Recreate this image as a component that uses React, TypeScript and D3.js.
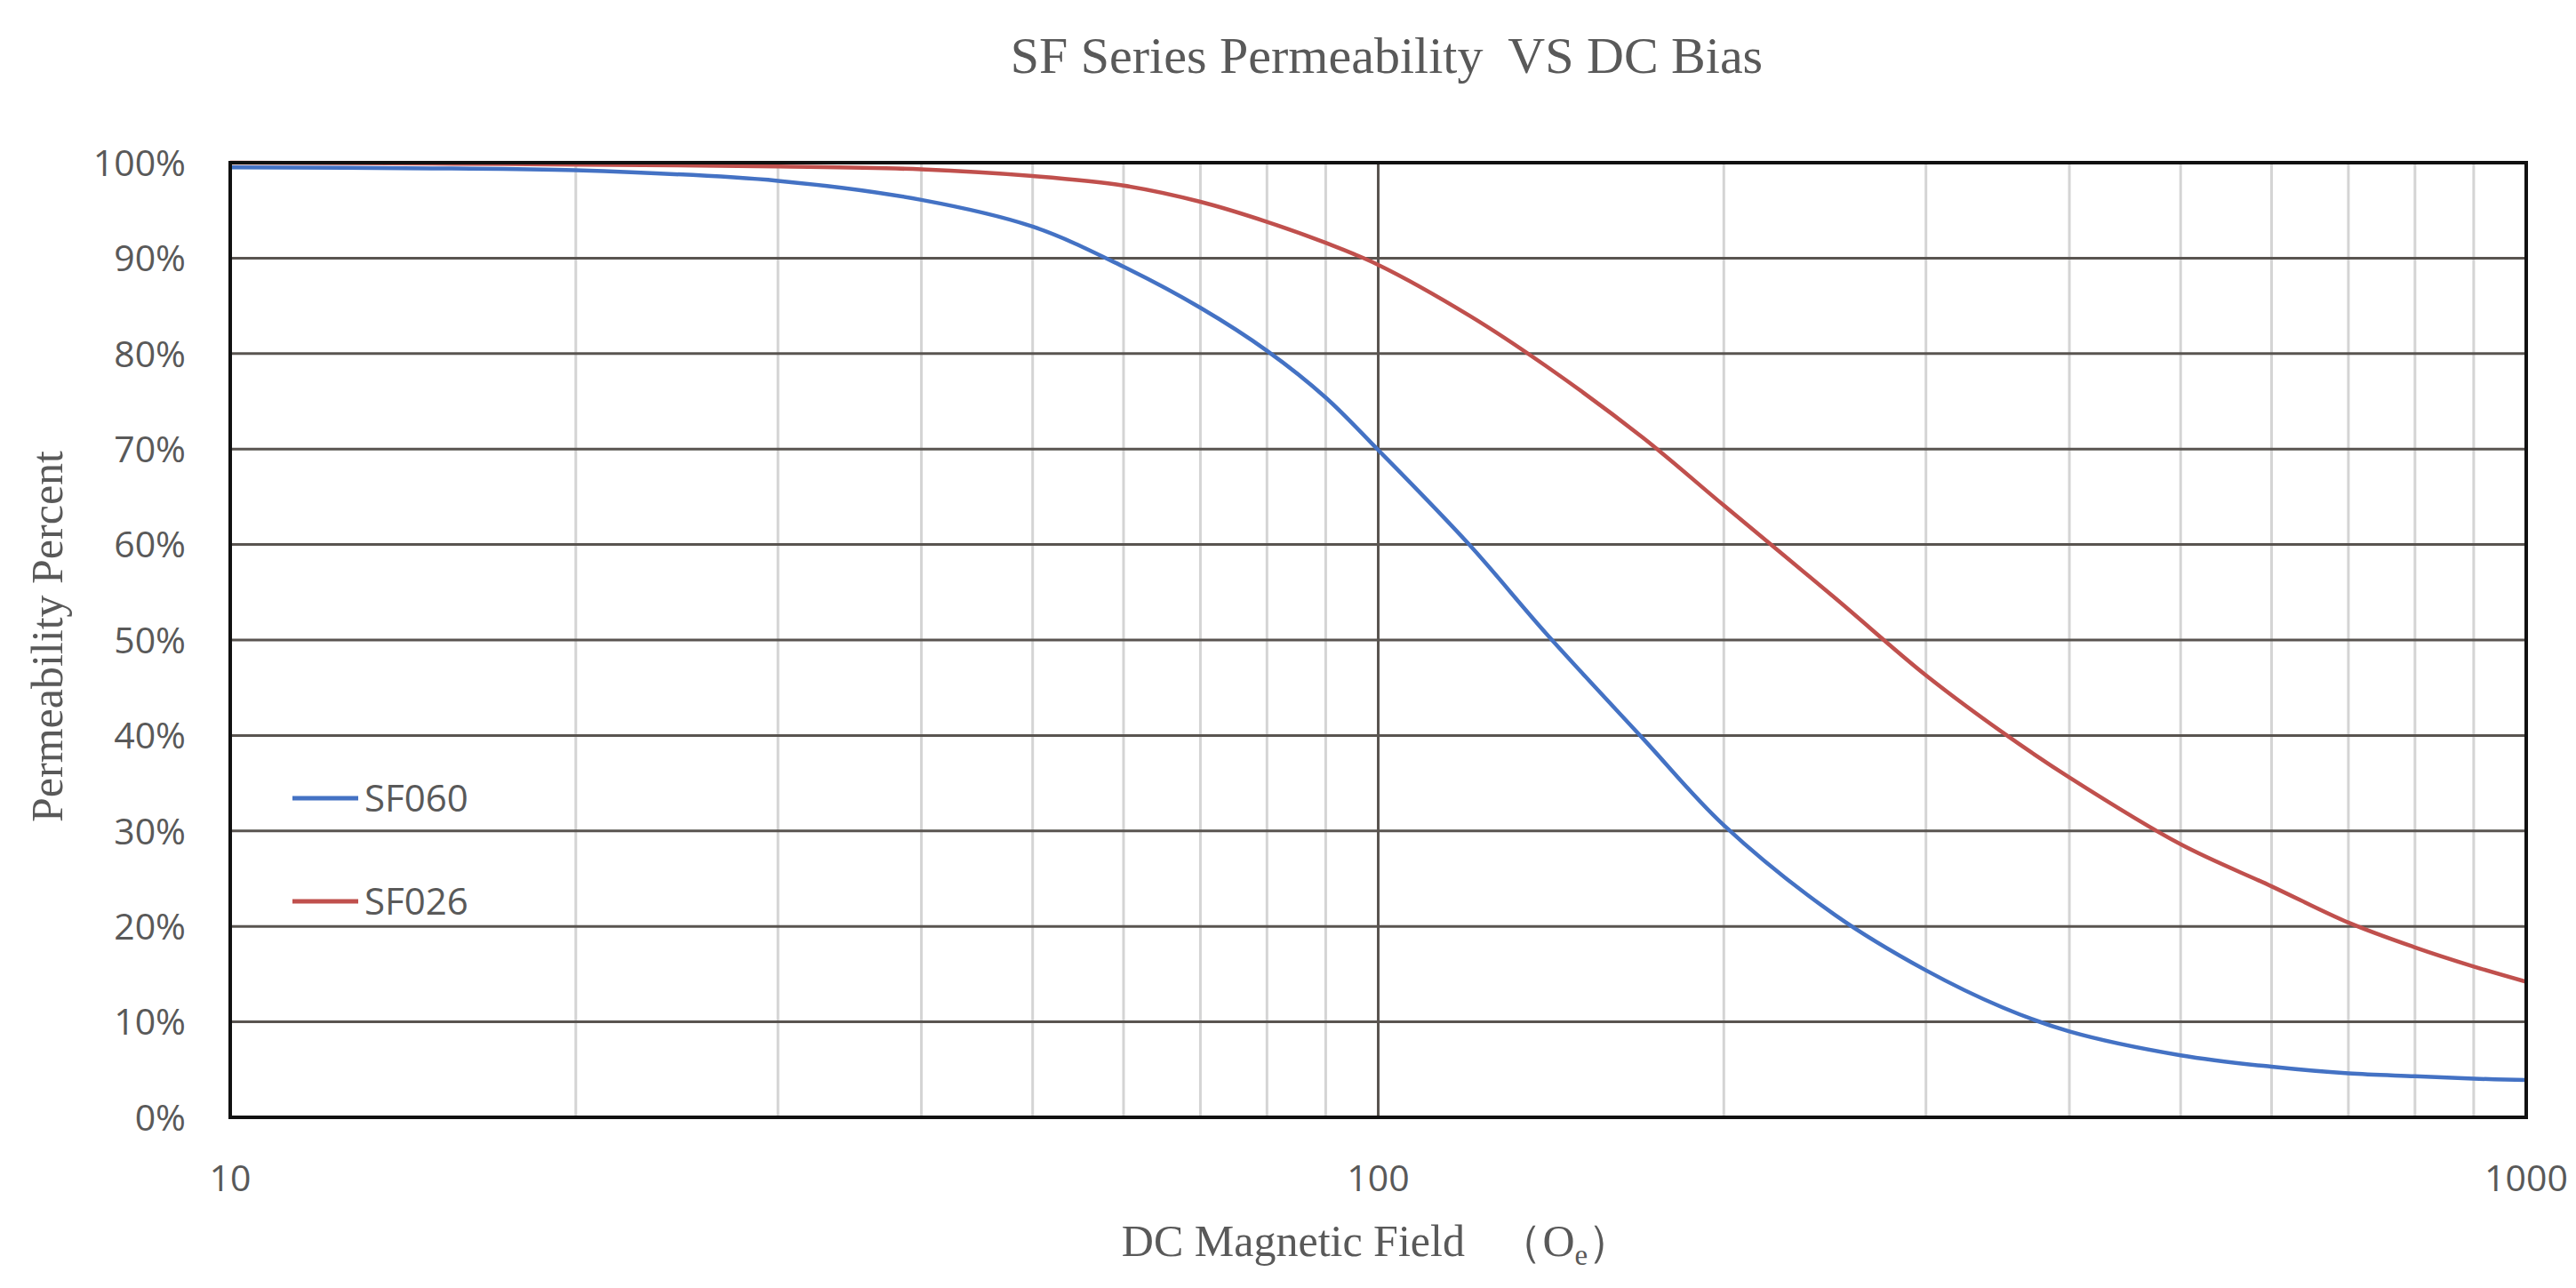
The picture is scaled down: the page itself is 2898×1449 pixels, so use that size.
import React from "react";
import * as d3 from "d3";

const fieldOe = [10, 15, 20, 30, 40, 50, 60, 70, 80, 90, 100, 120, 140, 170, 200, 250, 300, 350, 400, 500, 600, 700, 800, 900, 1000];
const sf060 = [99.5, 99.4, 99.2, 98.1, 96.1, 93.3, 89.1, 84.8, 80.3, 75.4, 69.9, 60.0, 50.7, 39.7, 30.6, 21.2, 15.4, 11.5, 9.0, 6.5, 5.3, 4.6, 4.3, 4.05, 3.9];
const sf026 = [100, 99.9, 99.8, 99.6, 99.3, 98.6, 97.6, 95.9, 93.8, 91.6, 89.3, 84.0, 78.7, 71.2, 64.1, 54.4, 46.3, 40.3, 35.6, 28.6, 24.2, 20.4, 17.8, 15.8, 14.2];
const seriesNames = ["SF060", "SF026"];
const seriesColors = ["#4472C4", "#C0504D"];
const yTicks = [0, 10, 20, 30, 40, 50, 60, 70, 80, 90, 100];
const xMajorTicks = [10, 100, 1000];
const xMinorTicks = [20, 30, 40, 50, 60, 70, 80, 90, 200, 300, 400, 500, 600, 700, 800, 900];

const W = 2898;
const H = 1449;
const left = 259;
const right = 2842;
const top = 183;
const bottom = 1257;

export default function App() {
  const x = d3.scaleLog().domain([10, 1000]).range([left, right]);
  const y = d3.scaleLinear().domain([0, 100]).range([bottom, top]);
  const line = d3
    .line<[number, number]>()
    .x((d) => x(d[0]))
    .y((d) => y(d[1]))
    .curve(d3.curveCatmullRom.alpha(0.5));
  const series = [sf060, sf026].map((vals) => fieldOe.map((f, i) => [f, vals[i]] as [number, number]));
  const sans = "'Open Sans', 'Noto Sans', sans-serif";
  const serif = "'Liberation Serif', 'DejaVu Serif', serif";
  const txt = "#595959";

  return (
    <svg width={W} height={H} style={{ position: "absolute", left: 0, top: 0, background: "#fff" }}>
      <rect x={0} y={0} width={W} height={H} fill="#fff" />
      <text x={1560} y={82} textAnchor="middle" fontFamily={serif} fontSize={58} fill={txt} style={{ whiteSpace: "pre" }}>
        {"SF Series Permeability  VS DC Bias"}
      </text>
      {xMinorTicks.map((t) => (
        <line key={"vx" + t} x1={x(t)} x2={x(t)} y1={top} y2={bottom} stroke="#d4d4d4" strokeWidth={3} />
      ))}
      {yTicks.map((t) => (
        <line key={"hy" + t} x1={left} x2={right} y1={y(t)} y2={y(t)} stroke="#595450" strokeWidth={3} />
      ))}
      <line x1={x(100)} x2={x(100)} y1={top} y2={bottom} stroke="#595450" strokeWidth={3} />
      {series.map((s, i) => (
        <path key={seriesNames[i]} d={line(s) || ""} fill="none" stroke={seriesColors[i]} strokeWidth={4.5} strokeLinejoin="round" />
      ))}
      <rect x={left} y={top} width={right - left} height={bottom - top} fill="none" stroke="#111" strokeWidth={4} />
      {yTicks.map((t) => (
        <text key={"yl" + t} x={209} y={y(t)} dy="0.36em" textAnchor="end" fontFamily={sans} fontSize={41} fill={txt}>
          {t + "%"}
        </text>
      ))}
      {xMajorTicks.map((t) => (
        <text key={"xl" + t} x={x(t)} y={1340} textAnchor="middle" fontFamily={sans} fontSize={41} fill={txt}>
          {String(t)}
        </text>
      ))}
      <text x={1549} y={1413} textAnchor="middle" fontFamily={serif} fontSize={50} fill={txt} style={{ whiteSpace: "pre" }}>
        {"DC Magnetic Field   （O"}
        <tspan fontSize={33} dy={10}>e</tspan>
        <tspan dy={-10}>）</tspan>
      </text>
      <text
        transform={`translate(70, 716) rotate(-90)`}
        textAnchor="middle"
        fontFamily={serif}
        fontSize={50}
        fill={txt}
      >
        Permeability Percent
      </text>
      {seriesNames.map((n, i) => {
        const ly = i === 0 ? 898 : 1014;
        return (
          <g key={"lg" + n}>
            <line x1={329} x2={403} y1={ly} y2={ly} stroke={seriesColors[i]} strokeWidth={5} />
            <text x={410} y={ly + 15} fontFamily={sans} fontSize={42} fill={txt}>
              {n}
            </text>
          </g>
        );
      })}
    </svg>
  );
}
